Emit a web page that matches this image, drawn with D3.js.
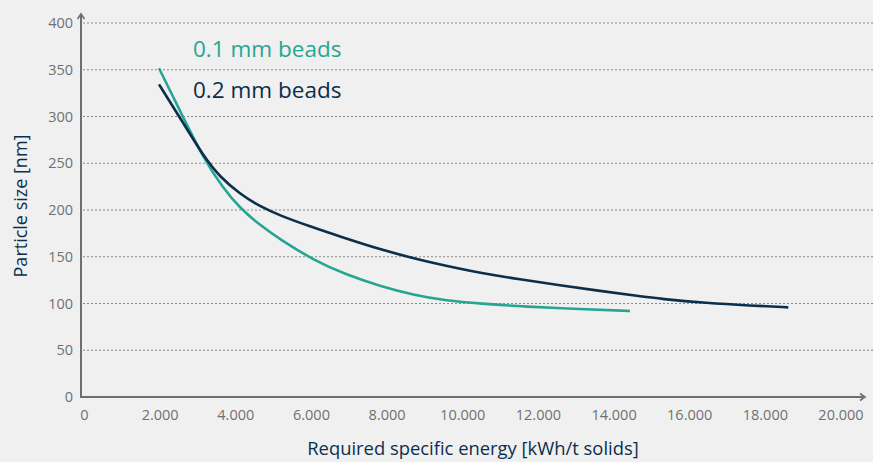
<!DOCTYPE html>
<html><head><meta charset="utf-8">
<script src="https://cdn.jsdelivr.net/npm/d3@7"></script>
<style>
html,body{margin:0;padding:0;background:#f0f0f0;}
svg{display:block;font-family:"Open Sans",sans-serif;}
</style></head><body>
<svg id="c" width="873" height="462"></svg>
<script>
const xTicks = [0,2000,4000,6000,8000,10000,12000,14000,16000,18000,20000];
const yTicks = [0,50,100,150,200,250,300,350,400];
const seriesNames = ["0.1 mm beads","0.2 mm beads"];
const beads01 = [[1970,351.6],[2578,301.6],[3159,254.5],[3662,223.5],[4107,202.1],[4636,184.0],[5165,168.7],[6049,146.5],[6932,130.5],[7812,118.7],[8693,109.1],[9576,103.0],[10456,99.9],[11691,96.5],[13100,94.1],[14422,92.0]];
const beads02 = [[1970,334.4],[2578,295.2],[3159,256.7],[3582,235.3],[4111,217.1],[4640,203.7],[5168,194.1],[5962,182.4],[6755,171.7],[7812,157.8],[8870,146.5],[9927,137.1],[10456,132.8],[11514,125.7],[12571,119.5],[13628,113.4],[14686,107.7],[15215,105.0],[16450,100.5],[17593,97.8],[18606,95.9]];
const colors = ["#27a594","#0b2f4b"];

const svg = d3.select("#c");
svg.append("rect").attr("width",873).attr("height",462).attr("fill","#f0f0f0");
const x = d3.scaleLinear().domain([0,20000]).range([84.5,841]);
const y = d3.scaleLinear().domain([0,400]).range([397,23]);
const fmt = v => v===0 ? "0" : d3.format(",")(v).replace(/,/g,".");

// grid
svg.append("g").selectAll("line").data(yTicks.filter(d=>d>0)).join("line")
  .attr("x1",83).attr("x2",873).attr("y1",d=>y(d)).attr("y2",d=>y(d))
  .attr("stroke","#8a8a8a").attr("stroke-width",1).attr("stroke-dasharray","2,2");

// y tick labels
svg.append("g").selectAll("text").data(yTicks).join("text")
  .attr("x",73).attr("y",d=>y(d)).attr("dy","0.36em").attr("text-anchor","end")
  .attr("font-size",14.5).attr("fill","#707070").text(d=>d);
// x tick labels
svg.append("g").selectAll("text").data(xTicks).join("text")
  .attr("x",d=>x(d)).attr("y",420).attr("text-anchor","middle")
  .attr("font-size",14.5).attr("fill","#707070").text(fmt);

// axes
const ac = "#6e6f6f";
svg.append("line").attr("x1",81).attr("x2",81).attr("y1",398).attr("y2",15).attr("stroke",ac).attr("stroke-width",2);
svg.append("line").attr("x1",80).attr("x2",863).attr("y1",397).attr("y2",397).attr("stroke",ac).attr("stroke-width",2);
svg.append("path").attr("d","M77.5,19 L81,14 L84.5,19").attr("fill","none").attr("stroke",ac).attr("stroke-width",1.6);
svg.append("path").attr("d","M860,393.5 L865,397 L860,400.5").attr("fill","none").attr("stroke",ac).attr("stroke-width",1.6);

// lines
const line = d3.line().x(d=>x(d[0])).y(d=>y(d[1])).curve(d3.curveBasis);
[beads01,beads02].forEach((s,i)=>{
  svg.append("path").datum(s).attr("d",line).attr("fill","none")
    .attr("stroke",colors[i]).attr("stroke-width",2.6);
});

// legend labels
svg.append("text").attr("x",193).attr("y",56.5).attr("font-size",22.5).attr("fill",colors[0]).text(seriesNames[0]);
svg.append("text").attr("x",193).attr("y",98).attr("font-size",22.5).attr("fill",colors[1]).text(seriesNames[1]);

// axis titles
svg.append("text").attr("x",473).attr("y",455).attr("text-anchor","middle").attr("font-size",18.4).attr("fill","#0b2f4b").text("Required specific energy [kWh/t solids]");
svg.append("text").attr("transform","translate(27,206) rotate(-90)").attr("text-anchor","middle").attr("font-size",18).attr("fill","#0b2f4b").text("Particle size [nm]");
</script>
</body></html>
